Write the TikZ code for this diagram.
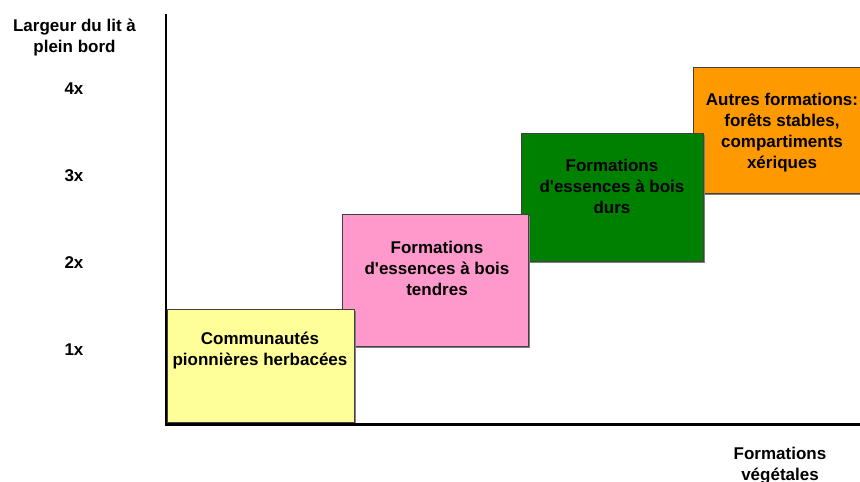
\documentclass[tikz,border=0pt]{standalone}
\usepackage{fontspec}
\setmainfont{Liberation Sans}
\definecolor{boxyellow}{HTML}{FFFF99}
\definecolor{boxpink}{HTML}{FF99CC}
\definecolor{boxgreen}{HTML}{008000}
\definecolor{boxorange}{HTML}{FF9900}
\definecolor{shadowgray}{HTML}{808080}
\begin{document}
\begin{tikzpicture}[x=1pt,y=-1pt,
  stage/.style={draw=black!75,line width=0.8pt},
  shade/.style={fill=shadowgray},
  axis/.style={line width=2.5pt,black},
  lbl/.style={inner sep=0pt,anchor=base,font=\fontsize{17}{21}\selectfont\bfseries}]
\useasboundingbox (0,0) rectangle (860,482);
\clip (0,0) rectangle (860,482);
% orange
\fill[shade] (695,69) rectangle (864,195);
\filldraw[stage,fill=boxorange] (693,67) rectangle (862,193);
% green
\fill[shade] (523,135) rectangle (705,263);
\filldraw[stage,fill=boxgreen] (521,133) rectangle (703,261);
% pink
\fill[shade] (344,216) rectangle (530,348);
\filldraw[stage,fill=boxpink] (342,214) rectangle (528,346);
% yellow
\fill[shade] (169,311) rectangle (356,424);
\filldraw[stage,fill=boxyellow] (167,309) rectangle (354,422);
% axes
\coordinate (top) at (166,14);
\coordinate (origin) at (166,424.5);
\coordinate (right) at (860,424.5);
\draw[axis] (top) -- (origin |- 0,426) ;
\draw[axis] (164.75,424.5) -- (right);
% box texts
\node[lbl] (t1) at (260,344) {\begin{tabular}[t]{@{}c@{}}Communautés\\pionnières herbacées\end{tabular}};
\node[lbl] (t2) at (437,253) {\begin{tabular}[t]{@{}c@{}}Formations\\d\textquotesingle essences à bois\\tendres\end{tabular}};
\node[lbl] (t3) at (612,171) {\begin{tabular}[t]{@{}c@{}}Formations\\d\textquotesingle essences à bois\\durs\end{tabular}};
\node[lbl] (t4) at (782,105) {\begin{tabular}[t]{@{}c@{}}Autres formations:\\forêts stables,\\compartiments\\xériques\end{tabular}};
% axis labels
\node[lbl] (ylab) at (74.5,31) {\begin{tabular}[t]{@{}c@{}}Largeur du lit à\\plein bord\end{tabular}};
\node[lbl] (xlab) at (780,459) {\begin{tabular}[t]{@{}c@{}}Formations\\végétales\end{tabular}};
\node[lbl] (l4) at (74,94) {4x};
\node[lbl] (l3) at (74,181) {3x};
\node[lbl] (l2) at (74,268) {2x};
\node[lbl] (l1) at (74,355) {1x};
\end{tikzpicture}
\end{document}
